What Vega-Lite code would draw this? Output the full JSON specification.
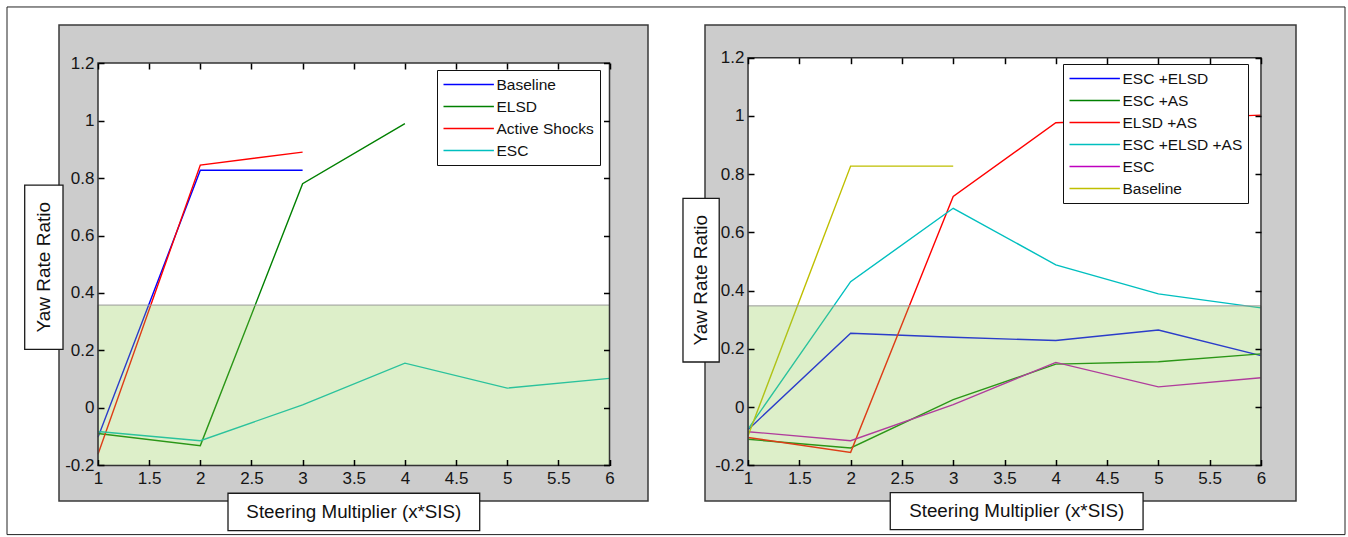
{
  "$schema": "https://vega.github.io/schema/vega-lite/v6.json",
  "background": "white",
  "padding": 5,
  "bounds": "flush",
  "spacing": 57,
  "datasets": {
    "one": [{}],
    "left": [
      {"series": "Baseline", "x": 1, "y": -0.102},
      {"series": "Baseline", "x": 2, "y": 0.827},
      {"series": "Baseline", "x": 3, "y": 0.827},
      {"series": "ELSD", "x": 1, "y": -0.089},
      {"series": "ELSD", "x": 2, "y": -0.131},
      {"series": "ELSD", "x": 3, "y": 0.78},
      {"series": "ELSD", "x": 4, "y": 0.989},
      {"series": "Active Shocks", "x": 1, "y": -0.161},
      {"series": "Active Shocks", "x": 2, "y": 0.845},
      {"series": "Active Shocks", "x": 3, "y": 0.89},
      {"series": "ESC", "x": 1, "y": -0.082},
      {"series": "ESC", "x": 2, "y": -0.114},
      {"series": "ESC", "x": 3, "y": 0.011},
      {"series": "ESC", "x": 4, "y": 0.156},
      {"series": "ESC", "x": 5, "y": 0.069},
      {"series": "ESC", "x": 6, "y": 0.103}
    ],
    "right": [
      {"series": "ESC +ELSD", "x": 1, "y": -0.077},
      {"series": "ESC +ELSD", "x": 2, "y": 0.254},
      {"series": "ESC +ELSD", "x": 3, "y": 0.24},
      {"series": "ESC +ELSD", "x": 4, "y": 0.229},
      {"series": "ESC +ELSD", "x": 5, "y": 0.265},
      {"series": "ESC +ELSD", "x": 6, "y": 0.177},
      {"series": "ESC +AS", "x": 1, "y": -0.11},
      {"series": "ESC +AS", "x": 2, "y": -0.14},
      {"series": "ESC +AS", "x": 3, "y": 0.026},
      {"series": "ESC +AS", "x": 4, "y": 0.148},
      {"series": "ESC +AS", "x": 5, "y": 0.156},
      {"series": "ESC +AS", "x": 6, "y": 0.183},
      {"series": "ELSD +AS", "x": 1, "y": -0.104},
      {"series": "ELSD +AS", "x": 2, "y": -0.155},
      {"series": "ELSD +AS", "x": 3, "y": 0.724},
      {"series": "ELSD +AS", "x": 4, "y": 0.977},
      {"series": "ELSD +AS", "x": 5, "y": 0.99},
      {"series": "ELSD +AS", "x": 6, "y": 1.003},
      {"series": "ESC +ELSD +AS", "x": 1, "y": -0.075},
      {"series": "ESC +ELSD +AS", "x": 2, "y": 0.431},
      {"series": "ESC +ELSD +AS", "x": 3, "y": 0.683},
      {"series": "ESC +ELSD +AS", "x": 4, "y": 0.489},
      {"series": "ESC +ELSD +AS", "x": 5, "y": 0.389},
      {"series": "ESC +ELSD +AS", "x": 6, "y": 0.341},
      {"series": "ESC", "x": 1, "y": -0.084},
      {"series": "ESC", "x": 2, "y": -0.115},
      {"series": "ESC", "x": 3, "y": 0.009},
      {"series": "ESC", "x": 4, "y": 0.154},
      {"series": "ESC", "x": 5, "y": 0.07},
      {"series": "ESC", "x": 6, "y": 0.101},
      {"series": "Baseline", "x": 1, "y": -0.098},
      {"series": "Baseline", "x": 2, "y": 0.828},
      {"series": "Baseline", "x": 3, "y": 0.828}
    ]
  },
  "hconcat": [
    {
      "width": 589,
      "height": 476,
      "layer": [
        {
          "data": {"name": "one"},
          "mark": {"type": "rect", "fill": "white"},
          "encoding": {
            "x": {"datum": 1, "type": "quantitative", "scale": {"domain": [0.6188, 6.3763], "nice": false, "zero": false}, "axis": null},
            "x2": {"datum": 6},
            "y": {"datum": -0.2, "type": "quantitative", "scale": {"domain": [-0.32365, 1.33236], "nice": false, "zero": false}, "axis": null},
            "y2": {"datum": 1.2}
          }
        },
        {
          "data": {"name": "left"},
          "mark": {"type": "line", "strokeWidth": 1.4},
          "encoding": {
            "x": {"field": "x", "type": "quantitative", "scale": {"domain": [0.6188, 6.3763], "nice": false, "zero": false},
                  "axis": {"orient": "bottom", "offset": -41.5, "zindex": 3, "values": [1, 1.5, 2, 2.5, 3, 3.5, 4, 4.5, 5, 5.5, 6], "tickSize": 6, "labelPadding": 5, "format": "~g"}},
            "y": {"field": "y", "type": "quantitative", "scale": {"domain": [-0.32365, 1.33236], "nice": false, "zero": false},
                  "axis": {"orient": "left", "offset": -45, "zindex": 3, "values": [-0.2, 0, 0.2, 0.4, 0.6, 0.8, 1, 1.2], "tickSize": 6, "labelPadding": 4, "format": "~g", "labelExpr": "replace(datum.label, '\u2212', '-')"}},
            "color": {"field": "series", "type": "nominal",
                      "scale": {"domain": ["Baseline", "ELSD", "Active Shocks", "ESC"], "range": ["#0000ff", "#008000", "#ff0000", "#00bfbf"]},
                      "legend": {"orient": "none", "legendX": 378, "legendY": 45}}
          }
        },
        {
          "data": {"name": "one"},
          "mark": {"type": "rect", "fill": "#8eca4b", "fillOpacity": 0.3, "stroke": "#9a9a9a", "strokeWidth": 1},
          "encoding": {
            "x": {"datum": 1, "type": "quantitative", "scale": {"domain": [0.6188, 6.3763], "nice": false, "zero": false},
                  "axis": {"orient": "top", "offset": -44, "zindex": 3, "values": [1, 1.5, 2, 2.5, 3, 3.5, 4, 4.5, 5, 5.5, 6], "tickSize": 6, "labels": false}},
            "x2": {"datum": 6},
            "y": {"datum": -0.2, "type": "quantitative", "scale": {"domain": [-0.32365, 1.33236], "nice": false, "zero": false},
                  "axis": {"orient": "right", "offset": -44.5, "zindex": 3, "values": [-0.2, 0, 0.2, 0.4, 0.6, 0.8, 1, 1.2], "tickSize": 6, "labels": false}},
            "y2": {"datum": 0.358}
          }
        },
        {
          "data": {"name": "one"},
          "mark": {"type": "rect", "fill": "transparent", "stroke": "#333333", "strokeWidth": 1.5},
          "encoding": {
            "x": {"datum": 1, "type": "quantitative", "axis": null}, "x2": {"datum": 6},
            "y": {"datum": -0.2, "type": "quantitative", "axis": null}, "y2": {"datum": 1.2}
          }
        },
        {
          "data": {"name": "one"},
          "mark": {"type": "rect", "fill": "white", "stroke": "#1a1a1a", "strokeWidth": 1.3},
          "encoding": {
            "x": {"datum": 0.2835, "type": "quantitative", "axis": null}, "x2": {"datum": 0.6579},
            "y": {"datum": 0.20383, "type": "quantitative", "axis": null}, "y2": {"datum": 0.77506}
          }
        },
        {
          "data": {"name": "one"},
          "mark": {"type": "text", "text": "Yaw Rate Ratio", "angle": 270, "fontSize": 19, "align": "center", "baseline": "middle", "color": "#111111"},
          "encoding": {
            "x": {"datum": 0.4707, "type": "quantitative", "axis": null},
            "y": {"datum": 0.48945, "type": "quantitative", "axis": null}
          }
        },
        {
          "data": {"name": "one"},
          "mark": {"type": "rect", "fill": "white", "stroke": "#1a1a1a", "strokeWidth": 1.3},
          "encoding": {
            "x": {"datum": 2.2708, "type": "quantitative", "axis": null}, "x2": {"datum": 4.7312},
            "y": {"datum": -0.42661, "type": "quantitative", "axis": null}, "y2": {"datum": -0.29669}
          }
        },
        {
          "data": {"name": "one"},
          "mark": {"type": "text", "text": "Steering Multiplier (x*SIS)", "fontSize": 18.8, "align": "center", "baseline": "middle", "color": "#111111"},
          "encoding": {
            "x": {"datum": 3.501, "type": "quantitative", "axis": null},
            "y": {"datum": -0.36165, "type": "quantitative", "axis": null}
          }
        },
        {
          "data": {"name": "one"},
          "mark": {"type": "rect", "fill": "transparent", "stroke": "#222222", "strokeWidth": 1},
          "encoding": {
            "x": {"datum": 0.1105, "type": "quantitative", "axis": null}, "x2": {"datum": 13.1896},
            "y": {"datum": -0.44054, "type": "quantitative", "axis": null}, "y2": {"datum": 1.39506}
          }
        }
      ],
      "resolve": {"axis": {"x": "independent", "y": "independent"}}
    },
    {
      "width": 591,
      "height": 476,
      "layer": [
        {
          "data": {"name": "one"},
          "mark": {"type": "rect", "fill": "white"},
          "encoding": {
            "x": {"datum": 1, "type": "quantitative", "scale": {"domain": [0.5805, 6.3415], "nice": false, "zero": false}, "axis": null},
            "x2": {"datum": 6},
            "y": {"datum": -0.2, "type": "quantitative", "scale": {"domain": [-0.322, 1.3124], "nice": false, "zero": false}, "axis": null},
            "y2": {"datum": 1.2}
          }
        },
        {
          "data": {"name": "right"},
          "mark": {"type": "line", "strokeWidth": 1.4},
          "encoding": {
            "x": {"field": "x", "type": "quantitative", "scale": {"domain": [0.5805, 6.3415], "nice": false, "zero": false},
                  "axis": {"orient": "bottom", "offset": -41.5, "zindex": 3, "values": [1, 1.5, 2, 2.5, 3, 3.5, 4, 4.5, 5, 5.5, 6], "tickSize": 6, "labelPadding": 5, "format": "~g"}},
            "y": {"field": "y", "type": "quantitative", "scale": {"domain": [-0.322, 1.3124], "nice": false, "zero": false},
                  "axis": {"orient": "left", "offset": -49, "zindex": 3, "values": [-0.2, 0, 0.2, 0.4, 0.6, 0.8, 1, 1.2], "tickSize": 6, "labelPadding": 4, "format": "~g", "labelExpr": "replace(datum.label, '\u2212', '-')"}},
            "color": {"field": "series", "type": "nominal",
                      "scale": {"domain": ["ESC +ELSD", "ESC +AS", "ELSD +AS", "ESC +ELSD +AS", "ESC", "Baseline"], "range": ["#0000ff", "#008000", "#ff0000", "#00bfbf", "#bf00bf", "#bfbf00"]},
                      "legend": {"orient": "none", "legendX": 358, "legendY": 39}}
          }
        },
        {
          "data": {"name": "one"},
          "mark": {"type": "rect", "fill": "#8eca4b", "fillOpacity": 0.3, "stroke": "#9a9a9a", "strokeWidth": 1},
          "encoding": {
            "x": {"datum": 1, "type": "quantitative", "scale": {"domain": [0.5805, 6.3415], "nice": false, "zero": false},
                  "axis": {"orient": "top", "offset": -38.7, "zindex": 3, "values": [1, 1.5, 2, 2.5, 3, 3.5, 4, 4.5, 5, 5.5, 6], "tickSize": 6, "labels": false}},
            "x2": {"datum": 6},
            "y": {"datum": -0.2, "type": "quantitative", "scale": {"domain": [-0.322, 1.3124], "nice": false, "zero": false},
                  "axis": {"orient": "right", "offset": -41, "zindex": 3, "values": [-0.2, 0, 0.2, 0.4, 0.6, 0.8, 1, 1.2], "tickSize": 6, "labels": false}},
            "y2": {"datum": 0.348}
          }
        },
        {
          "data": {"name": "one"},
          "mark": {"type": "rect", "fill": "transparent", "stroke": "#333333", "strokeWidth": 1.5},
          "encoding": {
            "x": {"datum": 1, "type": "quantitative", "axis": null}, "x2": {"datum": 6},
            "y": {"datum": -0.2, "type": "quantitative", "axis": null}, "y2": {"datum": 1.2}
          }
        },
        {
          "data": {"name": "one"},
          "mark": {"type": "rect", "fill": "white", "stroke": "#1a1a1a", "strokeWidth": 1.3},
          "encoding": {
            "x": {"datum": 0.3659, "type": "quantitative", "axis": null}, "x2": {"datum": 0.719},
            "y": {"datum": 0.1553, "type": "quantitative", "axis": null}, "y2": {"datum": 0.717}
          }
        },
        {
          "data": {"name": "one"},
          "mark": {"type": "text", "text": "Yaw Rate Ratio", "angle": 270, "fontSize": 19, "align": "center", "baseline": "middle", "color": "#111111"},
          "encoding": {
            "x": {"datum": 0.5425, "type": "quantitative", "axis": null},
            "y": {"datum": 0.4362, "type": "quantitative", "axis": null}
          }
        },
        {
          "data": {"name": "one"},
          "mark": {"type": "rect", "fill": "white", "stroke": "#1a1a1a", "strokeWidth": 1.3},
          "encoding": {
            "x": {"datum": 2.3863, "type": "quantitative", "axis": null}, "x2": {"datum": 4.8507},
            "y": {"datum": -0.4202, "type": "quantitative", "axis": null}, "y2": {"datum": -0.293}
          }
        },
        {
          "data": {"name": "one"},
          "mark": {"type": "text", "text": "Steering Multiplier (x*SIS)", "fontSize": 18.8, "align": "center", "baseline": "middle", "color": "#111111"},
          "encoding": {
            "x": {"datum": 3.6185, "type": "quantitative", "axis": null},
            "y": {"datum": -0.3566, "type": "quantitative", "axis": null}
          }
        }
      ],
      "resolve": {"axis": {"x": "independent", "y": "independent"}}
    }
  ],
  "resolve": {"scale": {"x": "independent", "y": "independent", "color": "independent"}, "legend": {"color": "independent"}},
  "config": {
    "font": "Liberation Sans",
    "view": {"fill": "#cccccc", "stroke": "#3a3a3a", "strokeWidth": 1.5},
    "axis": {
      "domain": false,
      "grid": false,
      "title": null,
      "ticks": true,
      "tickColor": "#000000",
      "tickWidth": 1.5,
      "tickOpacity": 1,
      "labelFont": "Liberation Sans",
      "labelFontSize": 17,
      "labelColor": "#151515",
      "labelFlush": false,
      "labelOverlap": false,
      "labelBound": false
    },
    "legend": {
      "title": null,
      "fillColor": "white",
      "strokeColor": "#111111",
      "padding": 5.5,
      "symbolType": "M-1,0H5.3",
      "symbolSize": 256,
      "symbolStrokeWidth": 1.5,
      "labelOffset": 36,
      "rowPadding": 4,
      "labelFont": "Liberation Sans",
      "labelFontSize": 15.5,
      "labelColor": "#111111",
      "labelLimit": 300
    }
  }
}
